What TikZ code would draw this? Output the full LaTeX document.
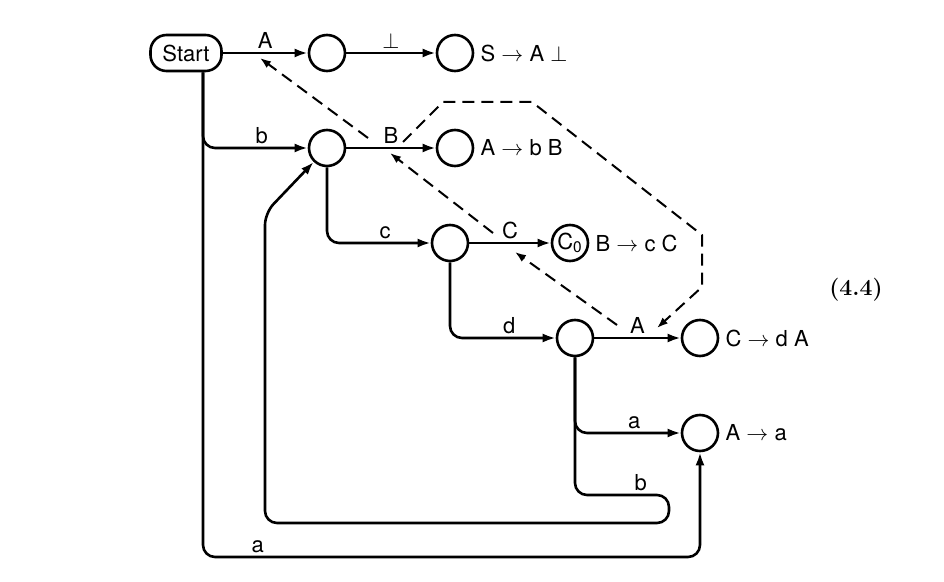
\documentclass[tikz,border=0pt]{standalone}
\usepackage{amsmath,amssymb}
\usepackage{fontspec}
\setsansfont{TeX Gyre Heros}
\usepackage{tikz}
\usetikzlibrary{arrows.meta,positioning}

\tikzset{
  state/.style={circle,draw,line width=1.3pt,minimum size=18pt,inner sep=0pt},
  startbox/.style={draw,line width=1.3pt,rounded corners=8pt,minimum height=18pt,inner xsep=6pt},
  trans/.style={line width=1.3pt,rounded corners=6pt,-{Latex[length=6.5pt,width=4.5pt]}},
  back/.style={line width=1pt,dash pattern=on 6pt off 3.5pt,-{Latex[length=5.5pt,width=4pt]}},
  rule/.style={inner sep=2pt},
  lbl/.style={inner sep=1.5pt}
}

\begin{document}
\begin{tikzpicture}[x=0.5pt,y=-0.5pt,font=\sffamily\fontsize{11}{13}\selectfont]
\useasboundingbox (0,0) rectangle (944,582);

% states
\node[startbox] (start) at (186,53) {Start};
\node[state] (q1) at (327,53) {};
\node[state] (q2) at (455,53) {};
\node[state] (q3) at (327,148) {};
\node[state] (q4) at (455,148) {};
\node[state] (q5) at (450,243) {};
\node[state] (q6) at (570,243) {C\textsubscript{0}};
\node[state] (q7) at (575,338) {};
\node[state] (q8) at (700,338) {};
\node[state] (q9) at (700,433) {};

% reductions
\node[rule,right=1pt of q2] {S $\to$ A $\perp$};
\node[rule,right=1pt of q4] {A $\to$ b B};
\node[rule,right=1pt of q6] {B $\to$ c C};
\node[rule,right=1pt of q8] {C $\to$ d A};
\node[rule,right=1pt of q9] {A $\to$ a};

% transitions
\draw[trans] (start) -- node[lbl,above] (lA) {A} (q1);
\draw[trans] (q1) -- node[lbl,above] {$\perp$} (q2);
\draw[trans] ([xshift=8.5pt]start.south) |- node[lbl,pos=0.78,above] {b} (q3);
\draw[trans] (q3) -- node[lbl,above] (lB) {B} (q4);
\draw[trans] (q3) |- node[lbl,pos=0.78,above] {c} (q5);
\draw[trans] (q5) -- node[lbl,above] (lC) {C} (q6);
\draw[trans] (q5) |- node[lbl,pos=0.78,above] {d} (q7);
\draw[trans] (q7) -- node[lbl,above] (lA2) {A} (q8);
\draw[trans] (q7) |- node[lbl,pos=0.78,above] {a} (q9);
\draw[trans] (q7) -- (575,495) -- node[lbl,pos=0.7,above] {b} (669,495)
  -- (669,523) -- (265,523) -- (265,213) -- (q3);
\coordinate (abot) at (700,557);
\draw[trans] ([xshift=8.5pt]start.south) |- node[lbl,pos=0.555,above] {a} (abot) -- (q9);

% backtracking
\coordinate (b1) at (368,138);
\coordinate (b2) at (493,233);
\coordinate (b3) at (617,325);
\draw[back] (b1) -- (260,58);
\draw[back] (b2) -- (390,153);
\draw[back] (b3) -- (515,252);
\draw[back] (403,142) -- (443,102) -- (532,102) -- (702,235) -- (702,287) -- (657,328);

\node[font=\rmfamily\bfseries\fontsize{11.5}{13}\selectfont] at (856,290) {(4.4)};
\end{tikzpicture}
\end{document}
